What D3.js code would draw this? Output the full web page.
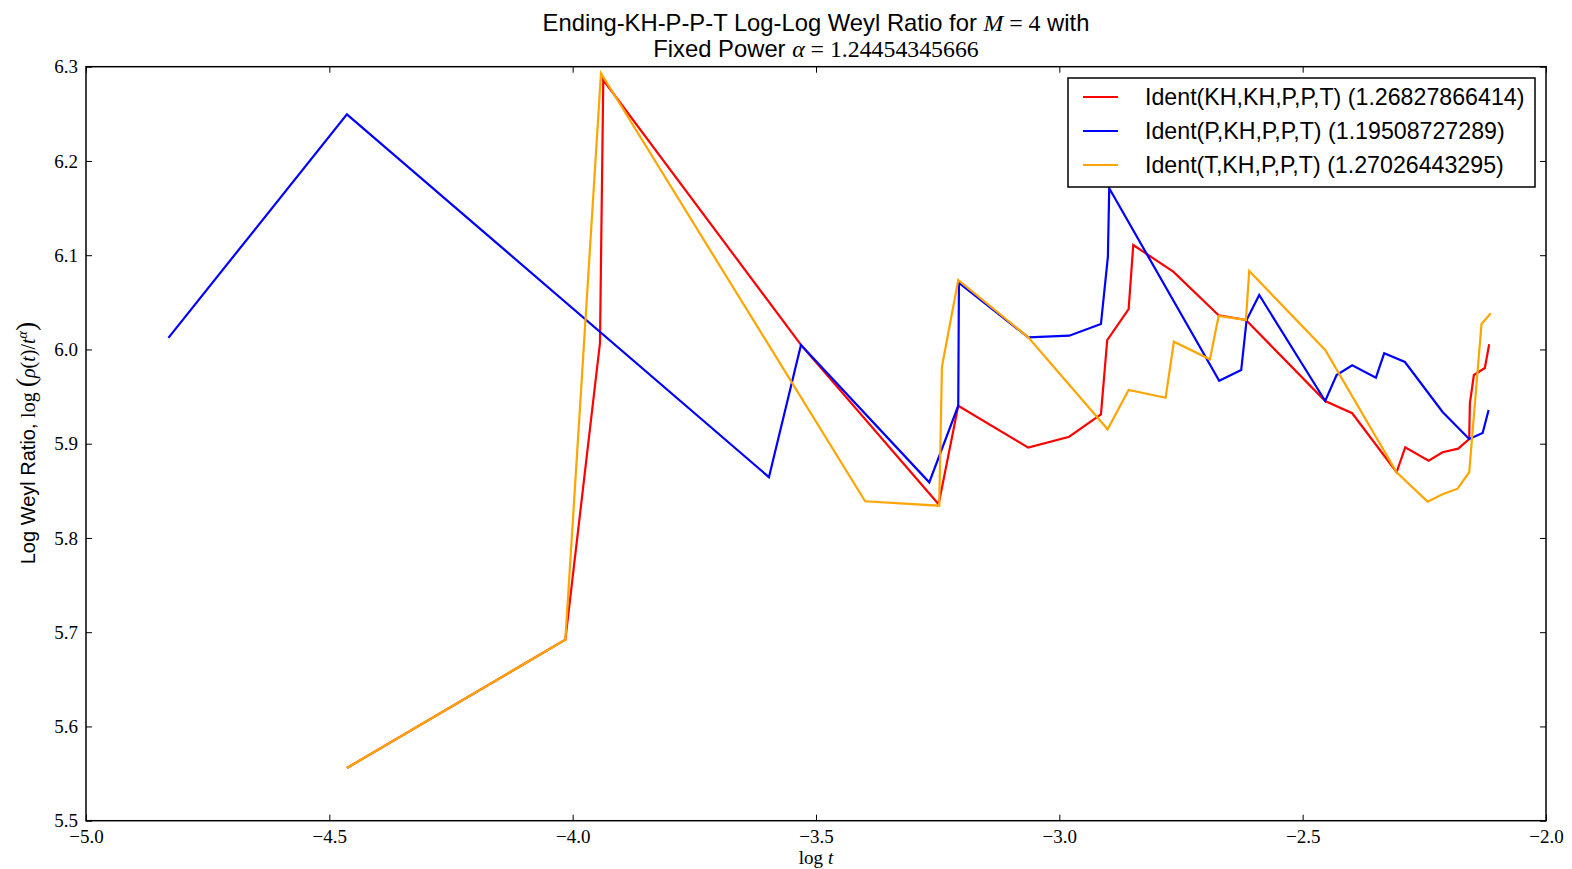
<!DOCTYPE html>
<html><head><meta charset="utf-8">
<script src="https://cdn.jsdelivr.net/npm/d3@7"></script>
<style>body{margin:0;background:#fff;}svg{display:block;}</style>
</head><body>
<script>
const redX = [-4.4639,-4.0150,-3.9439,-3.9371,-3.5309,-3.2480,-3.2077,-3.0639,-2.9797,-2.9145,-2.9016,-2.8576,-2.8481,-2.7659,-2.6727,-2.6166,-2.4537,-2.3982,-2.3070,-2.2893,-2.2412,-2.2125,-2.1804,-2.1578,-2.1564,-2.1482,-2.1256,-2.1168];
const redY = [5.5559,5.6921,6.0068,6.2859,6.0048,5.8357,5.9403,5.8958,5.9074,5.9312,6.0100,6.0429,6.1108,6.0825,6.0362,6.0313,5.9453,5.9323,5.8697,5.8962,5.8820,5.8909,5.8947,5.9050,5.9429,5.9729,5.9803,6.0055];
const blueX = [-4.8307,-4.4639,-3.5967,-3.5309,-3.2673,-3.2077,-3.2063,-3.0639,-2.9797,-2.9145,-2.9002,-2.8975,-2.6715,-2.6263,-2.6152,-2.5893,-2.4537,-2.4303,-2.3982,-2.3495,-2.3325,-2.2899,-2.2125,-2.1578,-2.1302,-2.1179];
const blueY = [6.0123,6.2495,5.8645,6.0048,5.8590,5.9403,6.0705,6.0129,6.0146,6.0270,6.0984,6.1710,5.9668,5.9782,6.0313,6.0578,5.9453,5.9729,5.9832,5.9700,5.9959,5.9867,5.9336,5.9050,5.9114,5.9358];
const orangeX = [-4.4639,-4.0150,-3.9418,-3.3990,-3.2468,-3.2412,-3.2077,-3.0639,-2.9008,-2.8576,-2.7816,-2.7646,-2.6906,-2.6727,-2.6166,-2.6098,-2.4537,-2.3070,-2.2433,-2.2125,-2.1817,-2.1578,-2.1325,-2.1134];
const orangeY = [5.5559,5.6921,6.2930,5.8389,5.8342,5.9817,6.0737,6.0129,5.9153,5.9570,5.9488,6.0082,5.9895,6.0355,6.0313,6.0832,5.9994,5.8697,5.8385,5.8463,5.8523,5.8697,6.0270,6.0384];
const seriesNames = ["Ident(KH,KH,P,P,T) (1.26827866414)","Ident(P,KH,P,P,T) (1.19508727289)","Ident(T,KH,P,P,T) (1.27026443295)"];
const seriesColors = ["#ff0000","#0000ff","#ffa500"];
const xTicks = [-5.0,-4.5,-4.0,-3.5,-3.0,-2.5,-2.0];
const yTicks = [5.5,5.6,5.7,5.8,5.9,6.0,6.1,6.2,6.3];

const W = 1572, H = 869;
const L = 86, T = 66.7, R = 1546, B = 820.7;
const svg = d3.select("body").append("svg").attr("width", W).attr("height", H);
const x = d3.scaleLinear().domain([-5, -2]).range([L, R]);
const y = d3.scaleLinear().domain([5.5, 6.3]).range([B, T]);
const serif = "'Liberation Serif','Times New Roman',serif";
const sans = "'Liberation Sans',Arial,Helvetica,sans-serif";

const fmt = d3.format(".1f");
const gx = svg.append("g").attr("transform", `translate(0,${B})`)
  .call(d3.axisBottom(x).tickValues(xTicks).tickFormat(fmt).tickSizeInner(-6).tickSizeOuter(0).tickPadding(9));
const gxt = svg.append("g").attr("transform", `translate(0,${T})`)
  .call(d3.axisTop(x).tickValues(xTicks).tickFormat("").tickSizeInner(-6).tickSizeOuter(0));
const gy = svg.append("g").attr("transform", `translate(${L},0)`)
  .call(d3.axisLeft(y).tickValues(yTicks).tickFormat(fmt).tickSizeInner(-6).tickSizeOuter(0).tickPadding(8));
const gyr = svg.append("g").attr("transform", `translate(${R},0)`)
  .call(d3.axisRight(y).tickValues(yTicks).tickFormat("").tickSizeInner(-6).tickSizeOuter(0));
[gx,gxt,gy,gyr].forEach(g => {
  g.select(".domain").remove();
  g.selectAll(".tick line").attr("stroke","#000").attr("stroke-width",1);
  g.selectAll("text").attr("font-family", serif).attr("font-size", 19).attr("fill","#000");
});
gy.selectAll("text").attr("dy","0.32em");

const line = d3.line().x(d => x(d[0])).y(d => y(d[1]));
const data = [d3.zip(redX, redY), d3.zip(blueX, blueY), d3.zip(orangeX, orangeY)];
data.forEach((d, i) => {
  svg.append("path").datum(d).attr("d", line).attr("fill","none")
    .attr("stroke", seriesColors[i]).attr("stroke-width", 2.2).attr("stroke-linejoin","miter");
});

svg.append("rect").attr("x", L).attr("y", T).attr("width", R-L).attr("height", B-T)
  .attr("fill","none").attr("stroke","#000").attr("stroke-width",1.5);

// legend
const lg = svg.append("g");
lg.append("rect").attr("x",1068).attr("y",78).attr("width",467).attr("height",109)
  .attr("fill","#fff").attr("stroke","#000").attr("stroke-width",1.5);
seriesNames.forEach((n,i) => {
  const yy = 97 + i*34;
  lg.append("line").attr("x1",1083).attr("x2",1118).attr("y1",yy).attr("y2",yy)
    .attr("stroke",seriesColors[i]).attr("stroke-width",2.2);
  lg.append("text").attr("x",1145).attr("y",yy).attr("dy","0.35em")
    .attr("font-family",sans).attr("font-size",23.2).text(n);
});

// title
const t1 = svg.append("text").attr("x", 816).attr("y", 31).attr("text-anchor","middle")
  .attr("font-family", sans).attr("font-size", 23.8);
t1.append("tspan").text("Ending-KH-P-P-T Log-Log Weyl Ratio for ");
t1.append("tspan").attr("font-family",serif).attr("font-style","italic").text("M");
t1.append("tspan").attr("font-family",serif).text(" = 4");
t1.append("tspan").text(" with");
const t2 = svg.append("text").attr("x", 816).attr("y", 57).attr("text-anchor","middle")
  .attr("font-family", sans).attr("font-size", 23.8);
t2.append("tspan").text("Fixed Power ");
t2.append("tspan").attr("font-family",serif).attr("font-style","italic").text("α");
t2.append("tspan").attr("font-family",serif).text(" = 1.24454345666");

// x label
const xl = svg.append("text").attr("x", 816).attr("y", 864).attr("text-anchor","middle")
  .attr("font-family", serif).attr("font-size", 19);
xl.append("tspan").text("log ");
xl.append("tspan").attr("font-style","italic").text("t");

// y label
const yl = svg.append("text").attr("transform","translate(35,443) rotate(-90)").attr("text-anchor","middle")
  .attr("font-family", sans).attr("font-size", 20);
yl.append("tspan").text("Log Weyl Ratio, ");
yl.append("tspan").attr("font-family",serif).text("log ");
yl.append("tspan").attr("font-family",serif).attr("font-size",28).text("(");
yl.append("tspan").attr("font-family",serif).attr("font-style","italic").text("ρ");
yl.append("tspan").attr("font-family",serif).text("(");
yl.append("tspan").attr("font-family",serif).attr("font-style","italic").text("t");
yl.append("tspan").attr("font-family",serif).text(")/");
yl.append("tspan").attr("font-family",serif).attr("font-style","italic").text("t");
yl.append("tspan").attr("font-family",serif).attr("font-style","italic").attr("font-size",14).attr("dy",-8).text("α");
yl.append("tspan").attr("font-family",serif).attr("font-size",28).attr("dy",8).text(")");
</script>
</body></html>
